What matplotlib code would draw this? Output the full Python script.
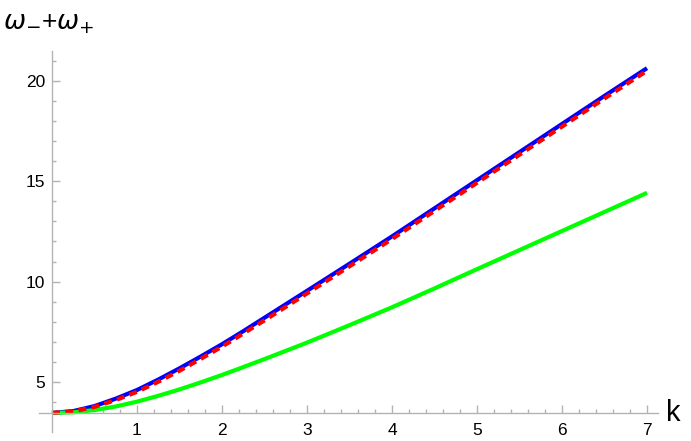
import matplotlib
matplotlib.use("Agg")
import matplotlib.pyplot as plt
from matplotlib.ticker import FixedLocator

# values
k = [0, 0.25, 0.5, 0.75, 1, 1.25, 1.5, 1.75, 2, 2.25, 2.5, 2.75, 3, 3.5, 4, 4.5,
     5, 5.5, 6, 6.5, 7]
blue = [3.46, 3.55, 3.80, 4.17, 4.60, 5.12, 5.68, 6.27, 6.88, 7.53, 8.20, 8.87,
        9.54, 10.89, 12.25, 13.65, 15.05, 16.45, 17.85, 19.25, 20.63]
red = [3.46, 3.54, 3.76, 4.10, 4.51, 5.01, 5.56, 6.15, 6.76, 7.41, 8.07, 8.74,
       9.41, 10.76, 12.12, 13.52, 14.92, 16.32, 17.72, 19.12, 20.50]
green = [3.46, 3.49, 3.60, 3.78, 4.02, 4.31, 4.63, 4.98, 5.35, 5.74, 6.14, 6.55,
         6.96, 7.83, 8.72, 9.66, 10.62, 11.57, 12.52, 13.47, 14.42]

x_major = [1, 2, 3, 4, 5, 6, 7]
y_major = [5, 10, 15, 20]
y_origin = 3.455

plt.rcParams["font.family"] = ["Liberation Sans", "DejaVu Sans"]

fig = plt.figure(figsize=(6.91, 4.41), dpi=100)
ax = fig.add_axes([0.0568, 0.02, 0.8955, 0.865])

ax.plot(k, blue, color="#0000ff", lw=3.0, solid_capstyle="butt")
ax.plot(k, green, color="#00ff00", lw=3.0, solid_capstyle="butt")
ax.plot(k, red, color="#ff0000", lw=3.0, dashes=(1.9, 1.3))

ax.set_xlim(-0.15, 7.13)
ax.set_ylim(2.5, 21.5)

for side in ["top", "right"]:
    ax.spines[side].set_visible(False)
ax.spines["left"].set_position(("data", 0))
ax.spines["bottom"].set_position(("data", y_origin))
for side in ["left", "bottom"]:
    ax.spines[side].set_color("#b3b3b3")
    ax.spines[side].set_linewidth(1.0)

ax.xaxis.set_major_locator(FixedLocator(x_major))
ax.yaxis.set_major_locator(FixedLocator(y_major))
x_minor = [i / 5 for i in range(1, 36) if i % 5 != 0]
y_minor = [v for v in range(4, 22) if v % 5 != 0]
ax.xaxis.set_minor_locator(FixedLocator(x_minor))
ax.yaxis.set_minor_locator(FixedLocator(y_minor))

ax.tick_params(which="both", direction="in", color="#b3b3b3", width=1.0,
               labelsize=12.5, labelcolor="black")
ax.tick_params(which="major", length=5.5)
ax.tick_params(which="minor", length=3.2)
ax.tick_params(axis="x", which="major", pad=7)
ax.tick_params(axis="y", which="major", pad=5)

ax.text(7.22, y_origin, "k", fontsize=21, ha="left", va="center")
fig.text(0.005, 0.945, r"$\omega_{-}$+$\omega_{+}$", fontsize=19,
         ha="left", va="center")

fig.savefig("out.png", dpi=100)
